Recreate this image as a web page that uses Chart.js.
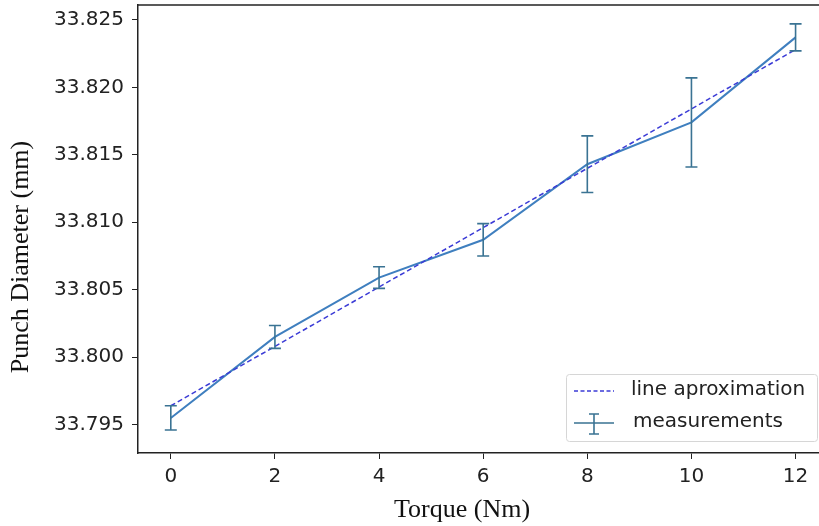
<!DOCTYPE html>
<html lang="en">
<head>
<meta charset="UTF-8">
<title>Punch Diameter vs Torque</title>
<script src="https://cdn.jsdelivr.net/npm/chart.js"></script>
<style>
  html, body { margin: 0; padding: 0; background: #fff; }
  #wrap { width: 819px; height: 526px; position: relative; }
</style>
</head>
<body>
<div id="wrap"><canvas id="chart" width="819" height="526"></canvas></div>
<script>
// torque steps and measured punch diameters
const torque = [0, 2, 4, 6, 8, 10, 12];
const measured = [33.7955, 33.8015, 33.8059, 33.8087, 33.8143, 33.8174, 33.8237];
const measuredErr = [0.0009, 0.00085, 0.0008, 0.0012, 0.0021, 0.0033, 0.001];
const fitted = [33.7964, 33.8008, 33.8052, 33.8096, 33.8140, 33.8184, 33.8228];
const xTicks = [0, 2, 4, 6, 8, 10, 12];
const yTicks = [33.795, 33.800, 33.805, 33.810, 33.815, 33.820, 33.825];

const lineColor = '#3f7fbf';
const errColor = '#3a7393';
const fitColor = '#3b3bd6';

// error bars drawn from the measurement arrays via the scales
const errorBars = {
  id: 'errorBars',
  afterDatasetsDraw(chart) {
    const { ctx, scales: { x, y } } = chart;
    ctx.save();
    ctx.strokeStyle = errColor;
    ctx.lineWidth = 1.6;
    torque.forEach((t, i) => {
      const px = x.getPixelForValue(t);
      const top = y.getPixelForValue(measured[i] + measuredErr[i]);
      const bot = y.getPixelForValue(measured[i] - measuredErr[i]);
      ctx.beginPath();
      ctx.moveTo(px, top); ctx.lineTo(px, bot);
      ctx.moveTo(px - 6, top); ctx.lineTo(px + 6, top);
      ctx.moveTo(px - 6, bot); ctx.lineTo(px + 6, bot);
      ctx.stroke();
    });
    ctx.restore();
  }
};

// top spine, axis titles and the boxed legend
const decorations = {
  id: 'decorations',
  afterDraw(chart) {
    const { ctx, chartArea: a } = chart;
    ctx.save();
    ctx.strokeStyle = '#222';
    ctx.lineWidth = 1.5;
    ctx.beginPath();
    ctx.moveTo(a.left, a.top); ctx.lineTo(a.right, a.top);
    ctx.stroke();

    ctx.fillStyle = '#111';
    ctx.font = '26px "Liberation Serif"';
    ctx.textAlign = 'center';
    ctx.textBaseline = 'middle';
    ctx.fillText('Torque (Nm)', 462, 510);
    ctx.translate(21, 257);
    ctx.rotate(-Math.PI / 2);
    ctx.fillText('Punch Diameter (mm)', 0, 0);
    ctx.restore();

    // legend box
    ctx.save();
    const bx = 566, by = 374, bw = 251, bh = 67;
    ctx.fillStyle = 'rgba(255,255,255,0.85)';
    ctx.strokeStyle = '#d6d6d6';
    ctx.lineWidth = 1;
    ctx.beginPath();
    ctx.roundRect(bx + 0.5, by + 0.5, bw, bh, 3);
    ctx.fill(); ctx.stroke();

    ctx.strokeStyle = fitColor;
    ctx.lineWidth = 1.5;
    ctx.setLineDash([4, 2.5]);
    ctx.beginPath();
    ctx.moveTo(574, 391); ctx.lineTo(614, 391);
    ctx.stroke();
    ctx.setLineDash([]);

    ctx.strokeStyle = errColor;
    ctx.lineWidth = 1.6;
    ctx.beginPath();
    ctx.moveTo(574, 423); ctx.lineTo(614, 423);
    ctx.moveTo(594, 414); ctx.lineTo(594, 434);
    ctx.moveTo(589, 414); ctx.lineTo(599, 414);
    ctx.moveTo(589, 434); ctx.lineTo(599, 434);
    ctx.stroke();

    ctx.fillStyle = '#222';
    ctx.font = '20px "DejaVu Sans"';
    ctx.textAlign = 'left';
    ctx.textBaseline = 'middle';
    ctx.fillText('line aproximation', 631, 390);
    ctx.fillText('measurements', 633, 422);
    ctx.restore();
  }
};

new Chart(document.getElementById('chart'), {
  type: 'line',
  data: {
    datasets: [
      {
        label: 'line aproximation',
        data: torque.map((t, i) => ({ x: t, y: fitted[i] })),
        borderColor: fitColor,
        borderWidth: 1.5,
        borderDash: [5, 3],
        pointRadius: 0,
        fill: false,
        tension: 0
      },
      {
        label: 'measurements',
        data: torque.map((t, i) => ({ x: t, y: measured[i] })),
        borderColor: lineColor,
        borderWidth: 2,
        pointRadius: 0,
        fill: false,
        tension: 0
      }
    ]
  },
  options: {
    responsive: false,
    animation: false,
    layout: { padding: { top: 5, right: 0, left: 0, bottom: 0 } },
    plugins: { legend: { display: false }, tooltip: { enabled: false } },
    scales: {
      x: {
        type: 'linear',
        min: -0.63,
        max: 12.45,
        afterBuildTicks: s => { s.ticks = xTicks.map(v => ({ value: v })); },
        afterFit: s => { s.height = 73; s.paddingLeft = 0; s.paddingRight = 0; },
        border: { color: '#222', width: 1.5 },
        grid: { drawOnChartArea: false, drawTicks: true, tickLength: 6, color: '#222' },
        ticks: {
          color: '#222',
          font: { family: 'DejaVu Sans', size: 20 },
          padding: 6,
          maxRotation: 0,
          autoSkip: false
        }
      },
      y: {
        min: 33.7929,
        max: 33.8261,
        afterBuildTicks: s => { s.ticks = yTicks.map(v => ({ value: v })); },
        afterFit: s => { s.width = 138; s.paddingTop = 0; s.paddingBottom = 0; },
        border: { color: '#222', width: 1.5 },
        grid: { drawOnChartArea: false, drawTicks: true, tickLength: 6, color: '#222' },
        ticks: {
          color: '#222',
          font: { family: 'DejaVu Sans', size: 20 },
          padding: 8,
          autoSkip: false,
          callback: v => v.toFixed(3)
        }
      }
    }
  },
  plugins: [errorBars, decorations]
});
</script>
</body>
</html>
